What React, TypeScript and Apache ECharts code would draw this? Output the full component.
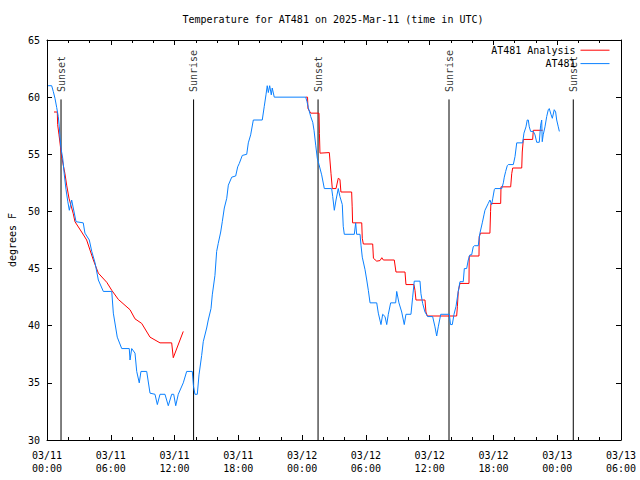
import React, { useEffect, useRef } from "react";
import * as echarts from "echarts";

// Hours since 2025-03-11 00:00 UTC, temperature in °F
const observed: [number, number][] = [
  [0.1, 61.0], [0.44, 61.0], [0.59, 60.5], [0.75, 59.9], [0.91, 59.1], [1.06, 58.3],
  [1.16, 57.4], [1.22, 56.5], [1.32, 55.5], [1.48, 54.65], [1.63, 53.2], [1.79, 51.9],
  [1.95, 50.9], [2.1, 50.1], [2.32, 51.0], [2.45, 50.4], [2.73, 49.1], [3.41, 49.0],
  [3.57, 48.1], [3.98, 47.5], [4.21, 46.5], [4.52, 45.5], [4.83, 44.0], [5.3, 43.0],
  [6.09, 43.0], [6.24, 41.1], [6.61, 39.0], [7.03, 38.0], [7.74, 38.0], [7.81, 37.0],
  [7.97, 38.0], [8.28, 37.6], [8.44, 36.0], [8.68, 35.0], [8.84, 36.0], [9.38, 36.0],
  [9.69, 34.1], [10.16, 34.0], [10.38, 33.1], [10.63, 34.0], [11.1, 34.0], [11.41, 33.0],
  [11.73, 34.0], [11.92, 34.0], [12.11, 33.0], [12.35, 34.0], [12.82, 35.0], [13.14, 36.0],
  [13.67, 36.0], [13.78, 34.7], [13.92, 34.0], [14.14, 34.0], [14.3, 35.7], [14.55, 37.4],
  [14.7, 38.6], [15.02, 39.8], [15.17, 40.5], [15.43, 41.5], [15.55, 42.7], [15.8, 44.4],
  [15.96, 46.5], [16.11, 47.2], [16.34, 48.2], [16.49, 49.1], [16.68, 50.3], [16.91, 51.15],
  [17.06, 52.3], [17.38, 53.0], [17.75, 53.1], [17.94, 53.9], [18.09, 54.2], [18.37, 54.9],
  [18.79, 55.0], [18.94, 56.0], [19.16, 56.7], [19.41, 58.0], [20.25, 58.0], [20.44, 59.2],
  [20.6, 60.2], [20.72, 61.0], [20.82, 60.4], [20.95, 61.0], [21.1, 60.2], [21.19, 60.8],
  [21.38, 60.0], [24.34, 60.0], [24.46, 59.6], [24.58, 59.1], [24.81, 58.3], [25.0, 57.8],
  [25.12, 57.1], [25.28, 55.8], [25.43, 54.65], [25.59, 54.1], [25.84, 53.2], [26.09, 52.0],
  [26.78, 52.0], [26.88, 51.3], [27.03, 50.1], [27.19, 51.0], [27.4, 52.0], [27.56, 51.3],
  [27.78, 50.6], [27.87, 48.7], [27.97, 48.0], [28.91, 48.0], [29.04, 49.0], [29.13, 48.0],
  [29.45, 48.0], [29.54, 47.05], [29.66, 46.0], [29.92, 44.9], [30.08, 44.0], [30.23, 43.1],
  [30.39, 42.0], [31.02, 42.0], [31.17, 41.1], [31.42, 40.1], [31.58, 41.0], [31.8, 40.8],
  [31.96, 40.1], [32.11, 41.0], [32.33, 42.0], [32.8, 42.0], [32.9, 43.0], [33.11, 42.0],
  [33.37, 41.2], [33.61, 40.1], [33.77, 41.0], [34.24, 41.0], [34.4, 42.5], [34.55, 43.9],
  [35.09, 43.9], [35.18, 42.8], [35.34, 41.95], [35.56, 41.2], [35.81, 40.8], [36.28, 40.8],
  [36.5, 39.9], [36.66, 39.1], [36.81, 39.9], [37.04, 41.0], [37.85, 41.0], [37.96, 40.1],
  [38.13, 40.1], [38.29, 41.0], [38.48, 41.7], [38.69, 43.0], [38.85, 43.85], [39.16, 43.85],
  [39.26, 45.0], [39.48, 45.0], [39.63, 45.75], [39.79, 46.2], [39.95, 46.2], [40.1, 46.9],
  [40.2, 47.0], [40.57, 47.0], [40.73, 48.1], [40.95, 49.0], [41.11, 49.7], [41.2, 50.1],
  [41.51, 50.7], [41.67, 51.0], [41.83, 50.6], [41.93, 51.1], [42.08, 51.9], [42.14, 52.0],
  [42.78, 52.0], [42.93, 52.5], [43.02, 53.0], [43.15, 53.5], [43.3, 54.0], [43.4, 54.1],
  [43.87, 54.1], [44.03, 54.8], [44.19, 56.0], [44.75, 56.0], [44.87, 56.85], [45.06, 57.4],
  [45.18, 58.0], [45.28, 58.0], [45.37, 57.4], [45.5, 57.0], [45.75, 57.0], [45.91, 56.7],
  [46.07, 56.05], [46.31, 56.05], [46.44, 57.55], [46.54, 58.0], [46.59, 56.1], [46.68, 56.7],
  [46.85, 57.4], [47.01, 58.3], [47.16, 58.9], [47.25, 59.0], [47.41, 58.5], [47.54, 58.15],
  [47.72, 58.9], [47.85, 58.7], [47.95, 58.0], [48.1, 57.4], [48.2, 57.0],
];

const analysisNight1: [number, number][] = [
  [0.66, 58.7], [0.97, 58.7], [1.0, 57.6], [1.13, 56.7], [1.38, 54.8], [1.53, 54.06],
  [1.69, 53.3], [1.85, 52.3], [2.07, 51.15], [2.47, 49.8], [2.63, 49.1], [3.26, 48.2],
  [3.73, 47.5], [4.36, 45.75], [4.83, 44.6], [5.62, 43.8], [6.09, 43.1], [6.71, 42.3],
  [7.81, 41.4], [8.28, 40.6], [8.91, 40.2], [9.69, 39.0], [10.63, 38.5], [11.73, 38.5],
  [11.88, 37.2], [12.82, 39.5],
];

const analysisNight2: [number, number][] = [
  [24.34, 60.0], [24.51, 60.0], [24.55, 59.0], [24.81, 58.6], [25.59, 58.6], [25.63, 56.8],
  [25.68, 55.1], [26.56, 55.15], [26.72, 53.3], [26.84, 52.0], [27.19, 52.0], [27.4, 52.9],
  [27.56, 52.8], [27.65, 51.7], [28.66, 51.7], [28.71, 50.4], [28.75, 49.0], [29.61, 49.0],
  [29.66, 47.65], [29.76, 47.15], [30.64, 47.15], [30.71, 45.9], [31.02, 45.65], [31.33, 45.7],
  [31.5, 45.95], [31.64, 45.75], [32.67, 45.75], [32.83, 44.7], [33.68, 44.7], [33.77, 43.6],
  [34.52, 43.6], [34.62, 43.1], [34.71, 42.25], [35.56, 42.25], [35.65, 41.2], [35.78, 40.85],
  [38.54, 40.85], [38.61, 41.7], [38.69, 43.0], [38.85, 43.7], [39.7, 43.7], [39.72, 46.1],
  [40.64, 46.1], [40.66, 47.8], [40.79, 48.1], [41.67, 48.1], [41.73, 50.0], [41.76, 50.7],
  [42.68, 50.7], [42.71, 52.15], [43.62, 52.15], [43.72, 53.3], [43.81, 53.8], [44.66, 53.8],
  [44.71, 55.2], [44.81, 56.3], [45.69, 56.3], [45.75, 57.1], [46.63, 57.1],
];

const eventHours = [1.32, 13.79, 25.5, 37.82, 49.51];
const eventNames = ["Sunset", "Sunrise", "Sunset", "Sunrise", "Sunset"];
const eventLineTop = 59.8;
const eventLabelY = 60.45;

const FONT = "DejaVu Sans Mono";

export default function App() {
  const ref = useRef<HTMLDivElement>(null);
  useEffect(() => {
    const chart = echarts.init(ref.current!, null, { renderer: "svg" });
    const fmtX = (v: number) => {
      const day = 11 + Math.floor(v / 24);
      const hh = v % 24;
      return `03/${String(day).padStart(2, "0")}\n${String(hh).padStart(2, "0")}:00`;
    };
    const xCommon = {
      type: "value" as const,
      min: 0,
      max: 54,
      interval: 6,
      axisLine: { show: true, onZero: false, lineStyle: { color: "#000", width: 1 } },
      axisTick: { show: true, inside: true, length: 5, lineStyle: { color: "#000" } },
      minorTick: { show: true, splitNumber: 3, length: 3, lineStyle: { color: "#000" } },
      splitLine: { show: false },
    };
    const yCommon = {
      type: "value" as const,
      min: 30,
      max: 65,
      interval: 5,
      axisLine: { show: true, onZero: false, lineStyle: { color: "#000", width: 1 } },
      axisTick: { show: true, inside: true, length: 5, lineStyle: { color: "#000" } },
      splitLine: { show: false },
    };
    const eventSeries = eventHours.map((h, i) => ({
      type: "line" as const,
      name: "ev" + i,
      data: [[h, 30], [h, eventLineTop]],
      symbol: "none",
      lineStyle: { color: "#000", width: 1 },
      silent: true,
      z: 1,
    }));
    chart.setOption({
      animation: false,
      textStyle: { fontFamily: FONT, fontSize: 10, color: "#000" },
      title: {
        text: "Temperature for AT481 on 2025-Mar-11 (time in UTC)",
        left: 333,
        top: 14,
        padding: 0,
        textAlign: "center",
        textStyle: { fontFamily: FONT, fontSize: 10, fontWeight: "normal", color: "#000" },
      },
      grid: { left: 47, right: 19, top: 40, bottom: 40, containLabel: false, outerBoundsMode: "none" },
      legend: {
        orient: "vertical",
        right: 30,
        top: 45,
        padding: 0,
        align: "right",
        itemWidth: 29,
        itemHeight: 13,
        itemGap: 3,
        data: ["AT481 Analysis", "AT481"],
        itemStyle: { opacity: 0 },
        lineStyle: { width: 1 },
        textStyle: { fontFamily: FONT, fontSize: 10, color: "#000" },
      },
      xAxis: [
        {
          ...xCommon,
          position: "bottom",
          axisLabel: {
            formatter: fmtX,
            margin: 9,
            lineHeight: 13,
            color: "#000",
            fontFamily: FONT,
            fontSize: 10,
            showMinLabel: true,
            showMaxLabel: true,
          },
        },
        { ...xCommon, position: "top", axisLabel: { show: false } },
      ],
      yAxis: [
        {
          ...yCommon,
          position: "left",
          name: "degrees F",
          nameLocation: "middle",
          nameRotate: 90,
          nameGap: 30,
          nameTextStyle: { fontFamily: FONT, fontSize: 10, color: "#000" },
          axisLabel: { margin: 7, color: "#000", fontFamily: FONT, fontSize: 10 },
        },
        { ...yCommon, position: "right", axisLabel: { show: false } },
      ],
      series: [
        ...eventSeries,
        {
          type: "scatter",
          name: "evlabels",
          data: eventHours.map((h, i) => ({ value: [h, eventLabelY], name: eventNames[i] })),
          symbolSize: 0,
          silent: true,
          label: {
            show: true,
            formatter: (p: any) => p.name,
            position: [0, 0],
            align: "left",
            verticalAlign: "middle",
            rotate: 90,
            fontFamily: FONT,
            fontSize: 10,
            color: "#000",
          },
          z: 3,
        },
        {
          type: "line",
          name: "AT481 Analysis",
          data: [...analysisNight1, [13.0, "-"], ...analysisNight2],
          symbol: "none",
          connectNulls: false,
          color: "#ff0000",
          lineStyle: { color: "#ff0000", width: 1 },
          z: 2,
        },
        {
          type: "line",
          name: "AT481",
          data: observed,
          symbol: "none",
          color: "#0a80ff",
          lineStyle: { color: "#0a80ff", width: 1 },
          z: 2,
        },
      ],
    });
    return () => chart.dispose();
  }, []);
  return (
    <div
      ref={ref}
      style={{ position: "fixed", left: 0, top: 0, width: 640, height: 480, background: "#fff" }}
    />
  );
}
